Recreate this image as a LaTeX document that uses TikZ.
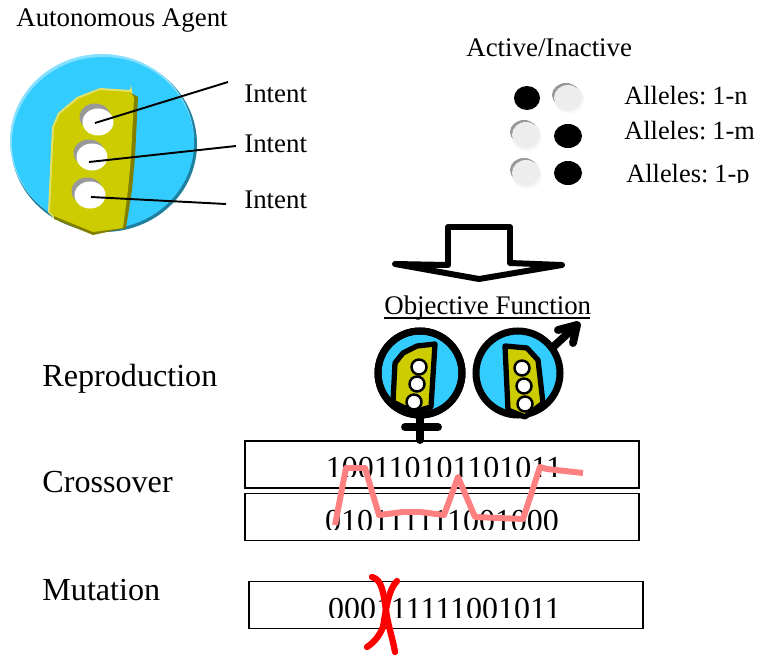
\documentclass[tikz,border=0pt]{standalone}
\usepackage{fontspec}
\setmainfont{Liberation Serif}
\usetikzlibrary{positioning}
\usetikzlibrary{shapes.geometric}
\definecolor{agentblue}{HTML}{33CCFF}
\definecolor{agentlight}{HTML}{85DFFF}
\definecolor{agentdark}{HTML}{2080A0}
\definecolor{shieldyellow}{HTML}{CCCC00}
\definecolor{shieldlight}{HTML}{E2E26A}
\definecolor{shielddark}{HTML}{807F00}
\definecolor{crossoverpink}{HTML}{FF8080}
\newcommand{\allelefont}{\fontsize{15}{18}\selectfont\spaceskip 0.15em\relax}
\begin{document}
\begin{tikzpicture}[
    x=0.02cm, y=-0.02cm,
    smalltext/.style={anchor=base west, inner sep=0pt, font=\fontsize{15.3}{18}\selectfont},
    alleletext/.style={anchor=base west, inner sep=0pt, font=\allelefont},
    bigtext/.style={anchor=base west, inner sep=0pt, font=\fontsize{18.3}{22}\selectfont},
    digittext/.style={anchor=base, inner sep=0pt, font=\fontsize{18.2}{22}\selectfont},
    genebox/.style={draw=black, line width=0.9pt, minimum width=7.88cm, minimum height=0.94cm, inner sep=0pt},
    bigring/.style={circle, draw=black, line width=4pt, fill=agentblue, minimum size=1.68cm, inner sep=0pt},
    hole/.style={ellipse, fill=white, minimum width=0.62cm, minimum height=0.54cm, inner sep=0pt},
    holeshade/.style={ellipse, fill=black!40, minimum width=0.62cm, minimum height=0.54cm, inner sep=0pt},
    smallhole/.style={circle, draw=black, line width=1.4pt, fill=white, minimum size=0.3cm, inner sep=0pt},
    leader/.style={line width=1.1pt},
    iconline/.style={line width=3.4pt, line join=round, line cap=round},
    heavyline/.style={line width=4.5pt, line join=round, line cap=round}
]
    \useasboundingbox (0,0) rectangle (758,656);
    % Autonomous agent
    % - [Fig: body of the agent]
    \fill [agentdark] (104,144) ellipse [x radius=93, y radius=88];
    \fill [agentlight] (102,141) ellipse [x radius=92, y radius=87];
    \fill [agentblue] (103,143) ellipse [x radius=91, y radius=86];
    % -- The plate
    \fill [shieldlight] (100,88) -- (130,90) -- (131,85) -- (133,96) -- (124,228) -- (54,218) -- (48,212) -- (52,127) -- (58,113) -- (77,97) -- cycle;
    \fill [shielddark] (104,92) -- (131,93) -- (138,97) -- (135,157) -- (132,190) -- (126,228) -- (93,235) -- (54,219) -- (60,120) -- cycle;
    \fill [shieldyellow] (100,90) -- (130,92) -- (134,97) -- (131,157) -- (128,190) -- (123,228) -- (93,232) -- (54,216) -- (50,212) -- (54,127) -- (60,114) -- (78,99) -- cycle;
    % -- The holes
    \node at (95,117) [holeshade](shade_a){};
    \node at (89,153) [holeshade](shade_b){};
    \node at (87,191) [holeshade](shade_c){};
    \node at (98,122) [hole](hole_a){};
    \node at (92,157) [hole](hole_b){};
    \node at (90,195) [hole](hole_c){};
    % -- The intents
    \coordinate (end_a) at (228,82);
    \coordinate (end_b) at (236,146);
    \coordinate (end_c) at (226,204);
    \draw [leader] (hole_a.center) ++(-3,1) -- (end_a);
    \draw [leader] (hole_b.center) ++(-3,5) -- (end_b);
    \draw [leader] (hole_c.center) ++(1,2) -- (end_c);
    \node at (16,26) [smalltext](agent_label){Autonomous Agent};
    \node at (244,102) [smalltext](intent_a){Intent};
    \node at (244,152) [smalltext](intent_b){Intent};
    \node at (244,208) [smalltext](intent_c){Intent};

    % Active / inactive alleles
    \node at (466,56) [smalltext](active_label){Active/Inactive};
    \fill [black!3] (569,99) ellipse [x radius=15, y radius=14];
    \fill [black!40] (566,95) ellipse [x radius=14, y radius=12];
    \fill [black!7] (568,98) ellipse [x radius=14, y radius=13];
    \fill [black!3] (527,137) ellipse [x radius=15, y radius=14];
    \fill [black!40] (524,132) ellipse [x radius=14, y radius=12];
    \fill [black!7] (526,135) ellipse [x radius=14, y radius=13];
    \fill [black!3] (527,175) ellipse [x radius=15, y radius=14];
    \fill [black!40] (524,170) ellipse [x radius=14, y radius=12];
    \fill [black!7] (526,173) ellipse [x radius=14, y radius=13];
    \fill [black] (527,98) ellipse [x radius=13, y radius=12];
    \fill [black] (568,136) ellipse [x radius=14, y radius=12];
    \fill [black] (568,173) ellipse [x radius=14, y radius=12];
    \node at (624,104) [alleletext](allele_n){Alleles: 1-n};
    \node at (624,139) [alleletext](allele_m){Alleles: 1-m};
    \begin{scope}
        \clip (620,160) rectangle (758,182);
        \node at (626,182) [alleletext](allele_p){Alleles: 1-p};
    \end{scope}

    % Objective function
    \draw [iconline, fill=white] (395,264) -- (448,265) -- (448,227) -- (510,227) -- (510,263) -- (562,265) -- (479,279) -- cycle;
    \node at (384,314) [smalltext](objective_label){Objective Function};
    \draw [line width=1.2pt] (objective_label.base west) ++(0,4) -- ++(206,0);

    % Reproduction
    \node at (42,386) [bigtext](reproduction_label){Reproduction};
    % - [Fig: female]
    \draw [heavyline] (420,418) -- (420,440);
    \draw [heavyline] (405,427) -- (438,427);
    \node at (420,373) [bigring](female){};
    \draw [line width=3pt, line join=round, fill=shieldyellow] (395,363) -- (403,353) -- (417,346) -- (435,344) -- (431,407) -- (413,412) -- (393,402) -- cycle;
    \draw [line width=4pt] (female.center) circle [radius=42];
    \node at (419,367) [smallhole](female_a){};
    \node at (417,384) [smallhole](female_b){};
    \node at (414,402) [smallhole](female_c){};
    % - [Fig: male]
    \draw [heavyline] (552,348) -- (577,325);
    \draw [heavyline] (558,330) -- (577,325) -- (573,343);
    \node at (518,373) [bigring](male){};
    \draw [line width=3pt, line join=round, fill=shieldyellow] (505,346) -- (527,348) -- (538,360) -- (543,403) -- (525,417) -- (508,410) -- cycle;
    \node at (522,368) [smallhole](male_a){};
    \node at (524,386) [smallhole](male_b){};
    \node at (525,404) [smallhole](male_c){};

    % Crossover
    \node at (42,492) [bigtext](crossover_label){Crossover};
    \node at (442,464.5) [genebox](parent_a){};
    \node at (442,517) [genebox](parent_b){};
    \begin{scope}
        \clip (245,441) rectangle (639,476);
        \node at (444,478) [digittext](bits_a){100110101101011};
    \end{scope}
    \begin{scope}
        \clip (245,493) rectangle (639,529);
        \node at (442,531) [digittext](bits_b){010111111001000};
    \end{scope}
    \draw [crossoverpink, line width=3.4pt, line join=round] (335,525) -- (346,468) -- (365,468) -- (379,515) -- (403,512) -- (420,512) -- (444,515) -- (458,477) -- (475,517) -- (523,519) -- (540,467) -- (547,469) -- (583,473);

    % Mutation
    \node at (42,600) [bigtext](mutation_label){Mutation};
    \node at (446,605) [genebox](mutant){};
    \begin{scope}
        \clip (249,581) rectangle (643,617);
        \node at (444.5,619) [digittext](bits_m){000111111001011};
    \end{scope}
    \draw [red, line width=3.6pt, line cap=round] (372,577) .. controls (382,580) and (383,590) .. (387,617) .. controls (390,632) and (393,640) .. (395,652);
    \draw [red, line width=3.6pt, line cap=round] (397,581) .. controls (388,590) and (386,610) .. (383,627) .. controls (379,637) and (373,643) .. (367,647);
\end{tikzpicture}
\end{document}
